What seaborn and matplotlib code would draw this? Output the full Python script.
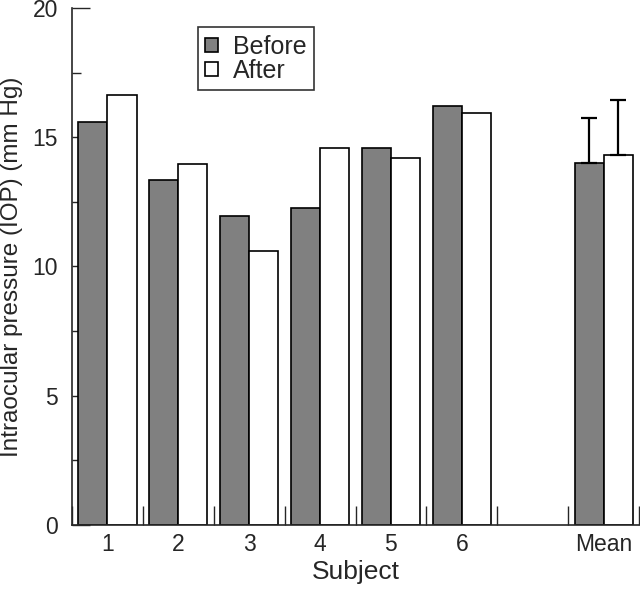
import matplotlib
matplotlib.use("Agg")
import matplotlib.pyplot as plt
import numpy as np
import pandas as pd
import seaborn as sns

# Data
subjects = ["1", "2", "3", "4", "5", "6", "Mean"]
before = [15.6, 13.35, 11.95, 12.25, 14.6, 16.2, 14.0]
after = [16.65, 13.95, 10.6, 14.6, 14.2, 15.95, 14.3]
mean_err = {"Before": 1.75, "After": 2.15}

order = ["1", "2", "3", "4", "5", "6", "", "Mean"]

df = pd.DataFrame({
    "subject": subjects * 2,
    "cond": ["Before"] * len(subjects) + ["After"] * len(subjects),
    "iop": before + after,
})

sns.set_style("ticks")
plt.rcParams["font.family"] = ["Liberation Sans", "DejaVu Sans"]

fig = plt.figure(figsize=(6.4, 5.93), dpi=100)
ax = fig.add_axes([0.1125, 0.1147, 0.886, 0.872])

sns.barplot(data=df, x="subject", y="iop", hue="cond", order=order,
            hue_order=["Before", "After"],
            palette={"Before": "#808080", "After": "white"},
            edgecolor="black", linewidth=1.2, width=0.82,
            errorbar=None, ax=ax)

# one-sided error bars on the mean bars
mean_pos = order.index("Mean")
for off, cond, val in [(-0.205, "Before", before[-1]), (0.205, "After", after[-1])]:
    ax.errorbar(mean_pos + off, val, yerr=[[0], [mean_err[cond]]], fmt="none",
                ecolor="black", elinewidth=1.6, capsize=6, capthick=1.6)

ax.set_xlim(-0.5, len(order) - 0.5)
ax.set_ylim(0, 20)

# y ticks: inward, major every 5, minor every 2.5
ax.set_yticks([0, 5, 10, 15, 20])
ax.set_yticks(np.arange(2.5, 20, 5), minor=True)
ax.tick_params(axis="y", which="major", direction="in", length=13, width=1,
               labelsize=16.5, pad=10)
ax.tick_params(axis="y", which="minor", direction="in", length=6.5, width=1)

# x ticks: short marks at group boundaries, labels at group centres
ax.set_xticks(np.arange(-0.5, len(order), 1.0))
ax.set_xticklabels([])
ax.set_xticks(np.arange(len(order)), minor=True)
ax.set_xticklabels(order, minor=True)
ax.tick_params(axis="x", which="major", direction="in", length=14, width=1)
ax.tick_params(axis="x", which="minor", length=0, labelsize=16.5, pad=6)

ax.set_xlabel("Subject", fontsize=19, labelpad=3)
ax.set_ylabel("Intraocular pressure (IOP) (mm Hg)", fontsize=17.5, labelpad=7)

for side in ["top", "right"]:
    ax.spines[side].set_visible(False)
for side in ["left", "bottom"]:
    ax.spines[side].set_linewidth(1.2)

leg = ax.legend(loc="upper left", bbox_to_anchor=(0.222, 0.963), fontsize=18,
                frameon=True, fancybox=False, edgecolor="black",
                handlelength=0.5, handleheight=0.5, handletextpad=0.6,
                borderpad=0.3, labelspacing=0.0, borderaxespad=0)
leg.get_frame().set_linewidth(1.2)

fig.savefig("out.png", dpi=100)
